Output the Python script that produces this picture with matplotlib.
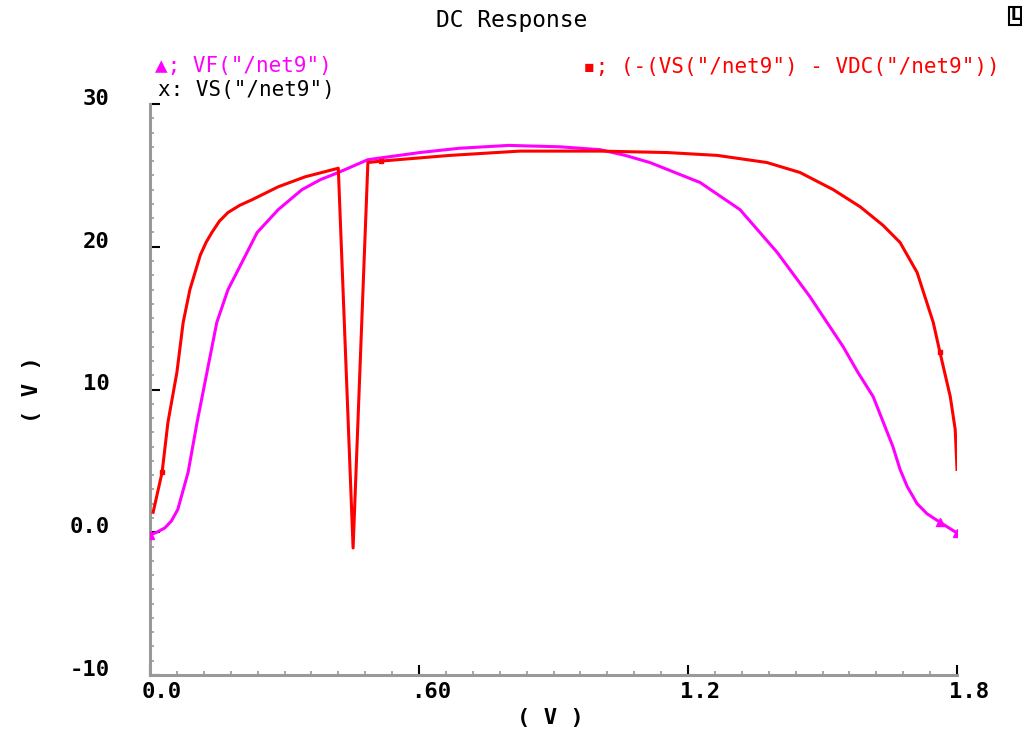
import matplotlib as mpl
mpl.use('Agg')
import matplotlib.pyplot as plt
from matplotlib.ticker import MultipleLocator
from matplotlib.transforms import ScaledTranslation

# VF("/net9") -- magenta trace
vf_x = [0.0, 0.015, 0.033, 0.048, 0.062, 0.085, 0.105, 0.127, 0.149, 0.174, 0.205,
        0.239, 0.286, 0.339, 0.38, 0.42, 0.486, 0.602, 0.69, 0.80, 0.915, 1.004,
        1.06, 1.115, 1.227, 1.316, 1.399, 1.472, 1.546, 1.579, 1.613, 1.657, 1.673,
        1.689, 1.711, 1.733, 1.762, 1.8]
vf_y = [-0.2, 0.0, 0.3, 0.8, 1.6, 4.2, 7.7, 11.2, 14.7, 17.0, 18.9,
        21.0, 22.6, 24.0, 24.7, 25.2, 26.1, 26.6, 26.9, 27.1, 27.0, 26.8,
        26.4, 25.9, 24.5, 22.6, 19.6, 16.5, 13.0, 11.2, 9.5, 6.0, 4.4,
        3.2, 2.0, 1.3, 0.7, -0.05]

# (-(VS("/net9") - VDC("/net9")) -- red trace
diff_x = [0.007, 0.027, 0.040, 0.060, 0.074, 0.089, 0.112, 0.125, 0.138, 0.155,
          0.174, 0.2, 0.228, 0.286, 0.346, 0.42, 0.453, 0.486, 0.515, 0.669,
          0.825, 1.004, 1.153, 1.265, 1.376, 1.45, 1.524, 1.584, 1.635, 1.673,
          1.711, 1.747, 1.762, 1.785, 1.796, 1.8]
diff_y = [1.4, 4.2, 7.7, 11.2, 14.7, 17.0, 19.4, 20.3, 21.0, 21.8,
          22.4, 22.9, 23.3, 24.2, 24.9, 25.5, -1.1, 25.9, 26.0, 26.4,
          26.7, 26.7, 26.6, 26.4, 25.9, 25.2, 24.0, 22.8, 21.5, 20.3,
          18.2, 14.7, 12.6, 9.5, 7.2, 4.4]

x_ticks = [0.0, 0.6, 1.2, 1.8]
x_labels = ["0.0", ".60", "1.2", "1.8"]
y_ticks = [-10, 0, 10, 20, 30]
y_labels = ["-10", "0.0", "10", "20", "30"]

magenta = '#ff00ff'
red = '#ff0000'
axis_grey = '#999999'
mono = 'DejaVu Sans Mono'

fig = plt.figure(figsize=[10.22, 7.32], dpi=100)
ax = fig.add_axes([150/1022, 1 - 675/732, 807/1022, 571/732])

ax.plot(vf_x, vf_y, color=magenta, lw=2.2, marker='^', ms=6,
        markevery=[0, 36, 37], zorder=3, solid_joinstyle='round')
ax.plot(diff_x, diff_y, color=red, lw=2.2, marker='s', ms=3.5,
        markevery=[1, 18, 32], zorder=4, solid_joinstyle='round')

ax.set_xlim(0, 1.8)
ax.set_ylim(-10, 30)
ax.set_xticks(x_ticks)
ax.set_xticklabels(x_labels)
ax.set_yticks(y_ticks)
ax.set_yticklabels(y_labels)
ax.xaxis.set_minor_locator(MultipleLocator(0.06))
ax.yaxis.set_minor_locator(MultipleLocator(1))

for s in ['top', 'right']:
    ax.spines[s].set_visible(False)
for s in ['left', 'bottom']:
    ax.spines[s].set_color(axis_grey)
    ax.spines[s].set_linewidth(2.2)

ax.tick_params(which='major', direction='in', length=7, width=1.5, color='black',
               labelsize=16)
ax.tick_params(axis='x', which='major', pad=5)
ax.tick_params(axis='y', which='major', pad=29)
ax.tick_params(which='minor', direction='in', length=3, width=1.2, color=axis_grey)

# cadence-style label placement: x labels start at the tick, y labels sit a bit high
x_off = ScaledTranslation(-8/100, 0, fig.dpi_scale_trans)
y_off = ScaledTranslation(0, 7/100, fig.dpi_scale_trans)
for lab in ax.get_xticklabels():
    lab.set_fontweight('bold')
    lab.set_family(mono)
    lab.set_horizontalalignment('left')
    lab.set_transform(lab.get_transform() + x_off)
for lab in ax.get_yticklabels():
    lab.set_fontweight('bold')
    lab.set_family(mono)
    lab.set_transform(lab.get_transform() + y_off)

fig.text(512/1022, 1 - 20/732, "DC Response", ha='center', va='center',
         fontsize=16.5, family=mono)
fig.text(155/1022, 1 - 66/732, '\u25b2; VF("/net9")', color=magenta, ha='left',
         va='center', fontsize=15, family=mono)
fig.text(158/1022, 1 - 90/732, 'x: VS("/net9")', color='black', ha='left',
         va='center', fontsize=15, family=mono)
fig.text(1000/1022, 1 - 67/732, '\u25aa; (-(VS("/net9") - VDC("/net9"))', color=red,
         ha='right', va='center', fontsize=15, family=mono)
fig.text(1015/1022, 1 - 16/732, 'L', color='black', ha='center', va='center',
         fontsize=11, fontweight='bold',
         bbox=dict(boxstyle='square,pad=0.1', fc='white', ec='black', lw=1.5))

fig.text(32/1022, 1 - 390/732, "( V )", rotation=90, ha='center', va='center',
         fontsize=16, fontweight='bold', family=mono)
fig.text(550/1022, 1 - 718/732, "( V )", ha='center', va='center',
         fontsize=16, fontweight='bold', family=mono)

plt.savefig("out.png", dpi=100)
plt.close()
